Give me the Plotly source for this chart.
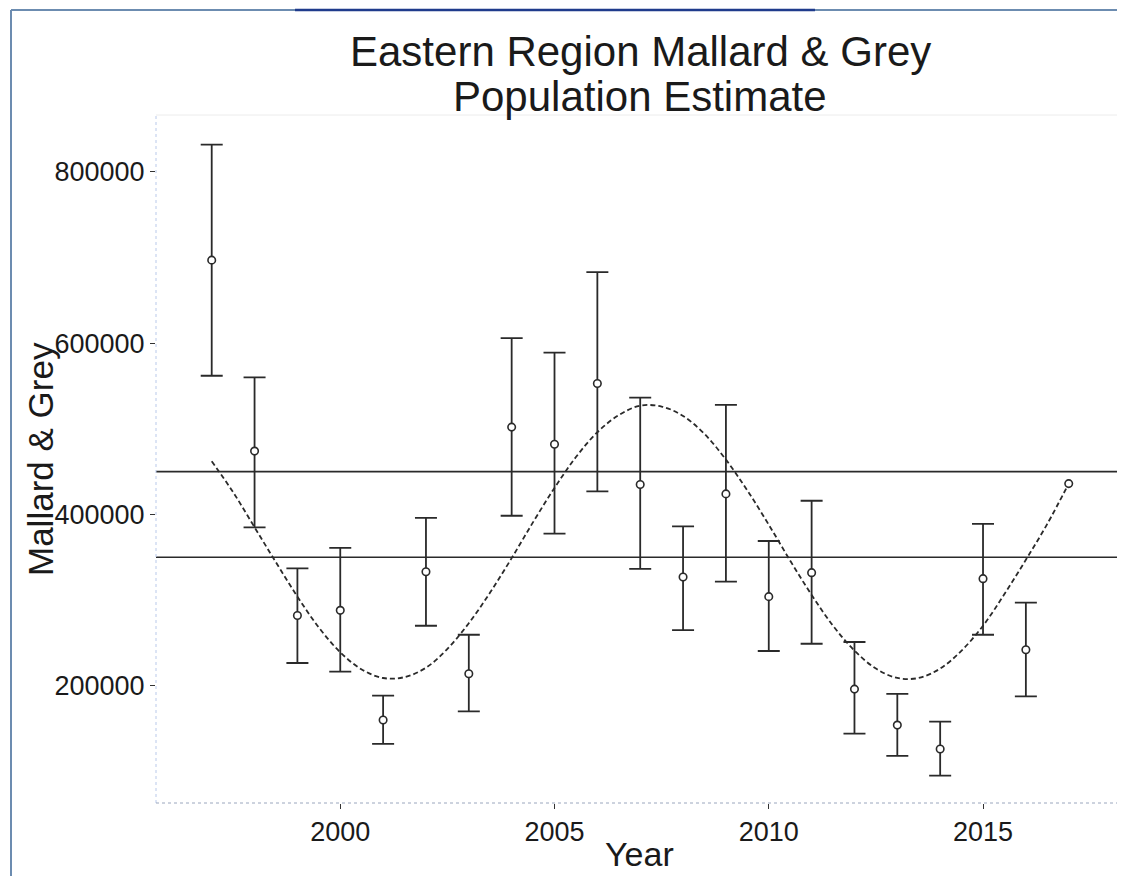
# import libraries
import plotly.graph_objs as go

# Key data
years = [1997, 1998, 1999, 2000, 2001, 2002, 2003, 2004, 2005, 2006, 2007,
         2008, 2009, 2010, 2011, 2012, 2013, 2014, 2015, 2016, 2017]
estimate = [697000, 474000, 282000, 288000, 160000, 333000, 214000, 502000, 482000, 553000, 435000,
            327000, 424000, 304000, 332000, 196000, 154000, 126000, 325000, 242000, 436000]
upper = [832000, 560000, 337000, 361000, 188500, 396000, 259500, 606000, 589000, 683000, 536500,
         386000, 528000, 369000, 416000, 251000, 190500, 158000, 389000, 297000, None]
lower = [562000, 385000, 226500, 216500, 132000, 270000, 170000, 398500, 377500, 427000, 336500,
         265000, 321500, 240500, 249000, 144000, 118000, 95000, 259500, 187500, None]

# fitted cycle (dashed curve), read at half-year steps
curve_years = [1997.0, 1997.5, 1998.0, 1998.5, 1999.0, 1999.5, 2000.0, 2000.5, 2001.0, 2001.5,
               2002.0, 2002.5, 2003.0, 2003.5, 2004.0, 2004.5, 2005.0, 2005.5, 2006.0, 2006.5,
               2007.0, 2007.5, 2008.0, 2008.5, 2009.0, 2009.5, 2010.0, 2010.5, 2011.0, 2011.5,
               2012.0, 2012.5, 2013.0, 2013.5, 2014.0, 2014.5, 2015.0, 2015.5, 2016.0, 2016.5, 2017.0]
curve_fit = [462000, 426000, 385000, 344000, 304000, 268000, 239000, 219000, 209000, 210000,
             221000, 243000, 273000, 309000, 349000, 391000, 431000, 467000, 496000, 516000,
             527000, 526000, 515000, 494000, 464000, 428000, 388000, 346000, 306000, 270000,
             241000, 220000, 209000, 209000, 220000, 241000, 270000, 307000, 347000, 389000, 436000]

# reference levels
hline_levels = [450000, 350000]

y_ticks = [200000, 400000, 600000, 800000]
x_ticks = [2000, 2005, 2010, 2015]

# only years that have an interval get error bars
eb = [(yr, e, u, l) for yr, e, u, l in zip(years, estimate, upper, lower) if u is not None]
eb_years = [r[0] for r in eb]
eb_est = [r[1] for r in eb]
err_plus = [r[2] - r[1] for r in eb]
err_minus = [r[1] - r[3] for r in eb]

ink = '#2a2a2a'
font_family = 'Liberation Sans, Arial, sans-serif'

# page is offset by the 8px body margin of the html page
OFF = 8
PAGE_W, PAGE_H = 1125, 876
W, H = PAGE_W - OFF, PAGE_H - OFF
# plot area in page pixels
L, R, T, B = 156, 1121, 115, 803


def px_x(px):
    return (px - L) / (R - L)


def px_y(py):
    return (B - py) / (B - T)


data = [
    go.Scatter(x=curve_years, y=curve_fit, mode='lines',
               line=dict(color=ink, width=1.8, dash='5px,3px', shape='spline', smoothing=1),
               hoverinfo='skip'),
    go.Scatter(x=eb_years, y=eb_est, mode='markers',
               marker=dict(size=1, color='rgba(0,0,0,0)'),
               error_y=dict(type='data', symmetric=False, array=err_plus, arrayminus=err_minus,
                            color=ink, thickness=1.8, width=11),
               hoverinfo='skip'),
    go.Scatter(x=years, y=estimate, mode='markers',
               marker=dict(symbol='circle', size=7.5, color='white',
                           line=dict(color=ink, width=1.6))),
]

shapes = []
# horizontal reference lines
for lvl in hline_levels:
    shapes.append(dict(type='line', xref='paper', yref='y', x0=0, x1=1, y0=lvl, y1=lvl,
                       line=dict(color=ink, width=1.6), layer='below'))

# faint panel edges (scanned look)
shapes += [
    dict(type='line', xref='paper', yref='paper', x0=0, x1=0, y0=0, y1=1,
         line=dict(color='#b9c9ea', width=1, dash='dot')),
    dict(type='line', xref='paper', yref='paper', x0=0, x1=1, y0=0, y1=0,
         line=dict(color='#9aa6bd', width=1, dash='dot')),
    dict(type='line', xref='paper', yref='paper', x0=0, x1=1, y0=1, y1=1,
         line=dict(color='#ececec', width=1)),
    dict(type='line', xref='paper', yref='paper', x0=1, x1=1, y0=0, y1=0.62,
         line=dict(color='#333333', width=1.5, dash='dot')),
    dict(type='line', xref='paper', yref='paper', x0=1, x1=1, y0=0.62, y1=1,
         line=dict(color='#cfcfcf', width=1.2)),
]

# outer page frame
shapes += [
    dict(type='line', xref='paper', yref='paper', x0=px_x(11), x1=px_x(11), y0=px_y(10), y1=px_y(876),
         line=dict(color='#6c8cb0', width=2)),
    dict(type='line', xref='paper', yref='paper', x0=px_x(11), x1=px_x(1125), y0=px_y(10), y1=px_y(10),
         line=dict(color='#6c8cb0', width=2)),
    dict(type='line', xref='paper', yref='paper', x0=px_x(295), x1=px_x(815), y0=px_y(10), y1=px_y(10),
         line=dict(color='#1f3b8c', width=2.5)),
]

title_font = dict(family=font_family, size=42, color='#1a1a1a')
annotations = [
    dict(text='Eastern Region Mallard & Grey', xref='paper', yref='paper',
         x=px_x(640), y=px_y(52), xanchor='center', yanchor='middle', showarrow=False,
         font=title_font),
    dict(text='Population Estimate', xref='paper', yref='paper',
         x=px_x(640), y=px_y(97), xanchor='center', yanchor='middle', showarrow=False,
         font=title_font),
    dict(text='Year', xref='paper', yref='paper', x=px_x(639), y=px_y(854),
         xanchor='center', yanchor='middle', showarrow=False,
         font=dict(family=font_family, size=34, color='#1a1a1a')),
    dict(text='Mallard & Grey', xref='paper', yref='paper', x=px_x(40), y=px_y(459),
         xanchor='center', yanchor='middle', textangle=-90, showarrow=False,
         font=dict(family=font_family, size=35, color='#1a1a1a')),
]

layout = go.Layout(
    width=W, height=H,
    margin=dict(l=L - OFF, r=PAGE_W - R, t=T - OFF, b=PAGE_H - B),
    paper_bgcolor='white', plot_bgcolor='white',
    showlegend=False,
    font=dict(family=font_family, color='#1a1a1a'),
    xaxis=dict(range=[1995.70, 2018.22], tickvals=x_ticks, ticks='outside', ticklen=5,
               tickcolor='#333333', showgrid=False, zeroline=False, showline=False,
               tickfont=dict(size=27, color='#1a1a1a')),
    yaxis=dict(range=[63000, 866500], tickvals=y_ticks, tickformat='d', ticks='outside', ticklen=5,
               tickcolor='#333333', showgrid=False, zeroline=False, showline=False,
               tickfont=dict(size=27, color='#1a1a1a')),
    shapes=shapes,
    annotations=annotations,
)

fig = go.Figure(data=data, layout=layout)
fig.write_html("out.html")
